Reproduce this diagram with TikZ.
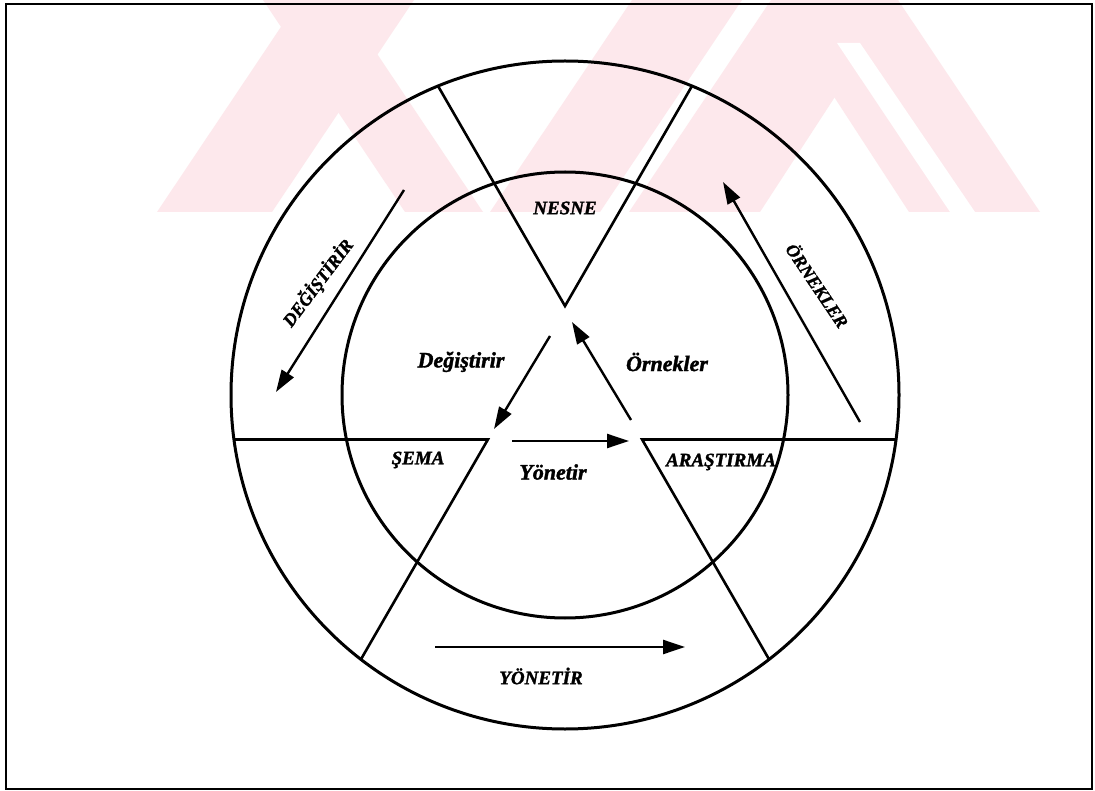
\documentclass[tikz,border=0pt]{standalone}
\usepackage{fontspec}
\setmainfont{Liberation Serif}
\newfontfamily\lblfont{Liberation Serif}[BoldItalicFeatures={FakeBold=1.6}]
\usetikzlibrary{arrows.meta}
\definecolor{wm}{RGB}{253,232,236}
\tikzset{
  ring/.style={line width=3pt, draw=black},
  ray/.style={line width=2.6pt, draw=black},
  arr/.style={line width=2.4pt, -{Triangle[length=22pt,width=14pt]}},
  lblA/.style={font=\lblfont\fontsize{22}{24}\selectfont\bfseries\itshape, inner sep=0pt},
  lblB/.style={font=\lblfont\fontsize{19}{21}\selectfont\bfseries\itshape, inner sep=0pt},
  lblC/.style={font=\lblfont\fontsize{18}{20}\selectfont\bfseries\itshape, inner sep=0pt},
}
\begin{document}
\begin{tikzpicture}[x=1pt,y=-1pt]
\useasboundingbox (0,0) rectangle (1095,791);
\fill[white] (0,0) rectangle (1095,791);
% watermark (approximate)
\fill[wm] (157,212) -- (272,212) -- (414,0) -- (299,0) -- cycle;
\fill[wm] (263,0) -- (341,0) -- (483,212) -- (405,212) -- cycle;
\fill[wm] (490,212) -- (600,212) -- (742,0) -- (632,0) -- cycle;
\fill[wm] (771,0) -- (898,0) -- (1040,212) -- (909,212) -- cycle;
\fill[wm] (629,212) -- (760,212) -- (898,0) -- (771,0) -- cycle;
\fill[white] (837,43) -- (860,43) -- (975,212) -- (950,212) -- cycle;
% frame
\draw[line width=1.8pt] (6,4) rectangle (1092,789);
% geometry
\coordinate (C) at (565,395);
\coordinate (T) at (565,306);
\coordinate (S) at (487.9,439.5);
\coordinate (A) at (642.1,439.5);
\coordinate (oL) at (234,439.5);
\coordinate (oR) at (896,439.5);
\coordinate (oTL) at (438,86);
\coordinate (oTR) at (692,86);
\coordinate (oSL) at (360.9,659.4);
\coordinate (oAR) at (769.1,659.4);
\draw[ring] (C) circle (334pt);
\draw[ring] (C) circle (223pt);
\draw[ray] (oL) -- (S) -- (oSL);
\draw[ray] (oR) -- (A) -- (oAR);
\draw[ray] (oTL) -- (T) -- (oTR);
% arrows
\coordinate (a1s) at (631,420); \coordinate (a1e) at (572,322);
\coordinate (a2s) at (550,336); \coordinate (a2e) at (494,429);
\coordinate (a3s) at (512,441); \coordinate (a3e) at (629,441);
\coordinate (b1s) at (404,190); \coordinate (b1e) at (276,392);
\coordinate (b2s) at (860,422); \coordinate (b2e) at (723,182);
\coordinate (b3s) at (435,647); \coordinate (b3e) at (685,647);
\draw[arr] (a1s) -- (a1e);
\draw[arr] (a2s) -- (a2e);
\draw[arr] (a3s) -- (a3e);
\draw[arr] (b1s) -- (b1e);
\draw[arr] (b2s) -- (b2e);
\draw[arr] (b3s) -- (b3e);
% labels
\node[lblB] (nesne) at (565,208) {NESNE};
\node[lblA] (degl) at (461,362) {Değiştirir};
\node[lblA] (orn) at (667,362) {Örnekler};
\node[lblA] (yon) at (553,472) {Yönetir};
\node[lblB] (sema) at (418,460) {ŞEMA};
\node[lblB] (aras) at (721,462) {ARAŞTIRMA};
\node[lblB] (YON) at (541,676) {YÖNETİR};
\node[lblC, rotate=53] (DEG) at (318,283) {DEĞİŞTİRİR};
\node[lblC, rotate=-56] (ORN) at (818,285) {ÖRNEKLER};
\end{tikzpicture}
\end{document}
